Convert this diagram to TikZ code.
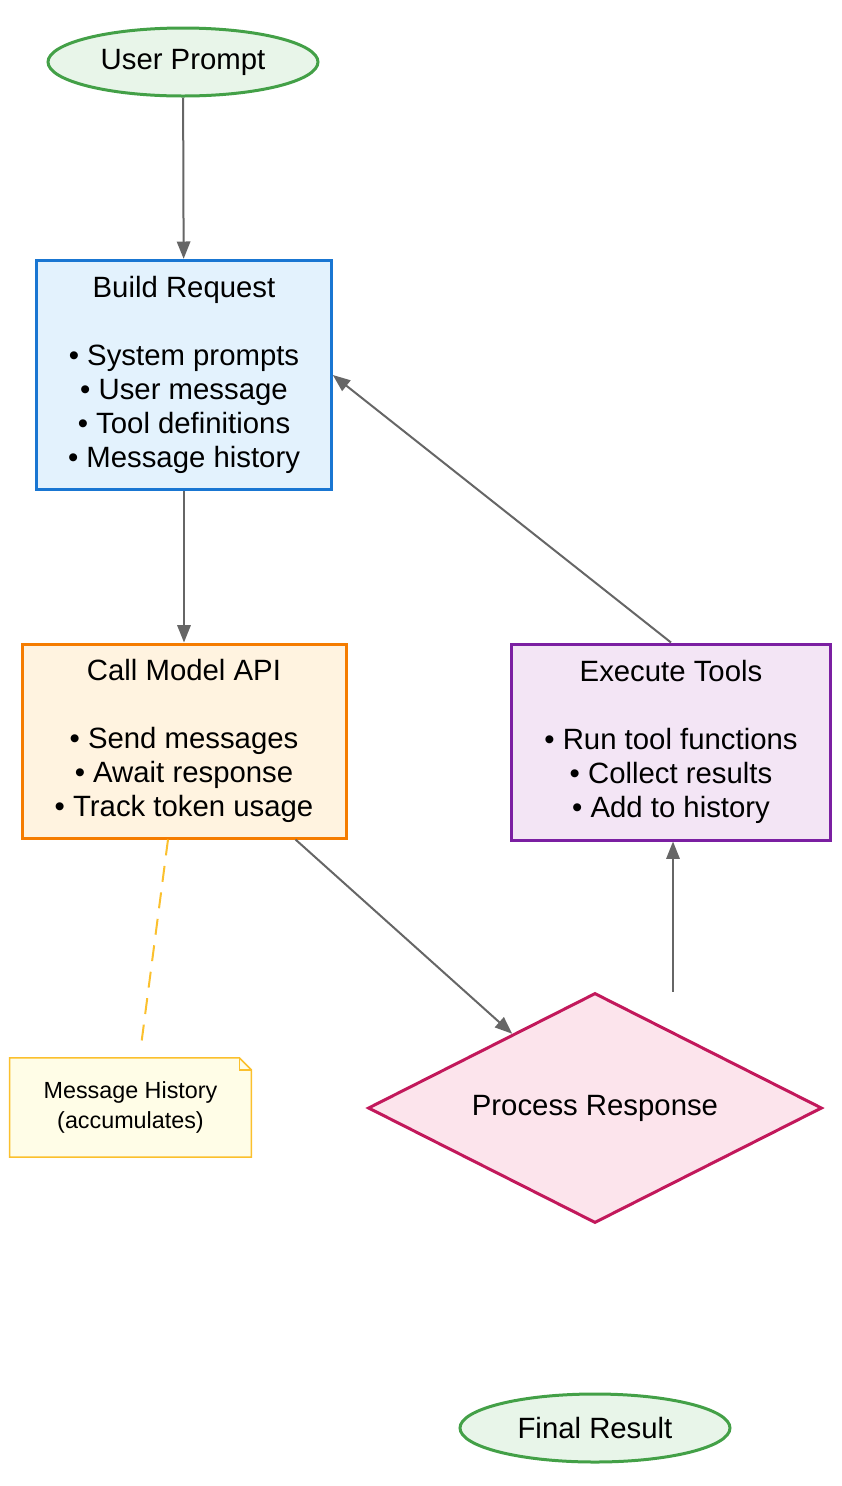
\documentclass[tikz,border=0pt]{standalone}
\usepackage{fontspec}
\setmainfont{Liberation Sans}
\usetikzlibrary{shapes.geometric,arrows.meta,calc}
\definecolor{edgec}{HTML}{666666}
\begin{document}
\begin{tikzpicture}[x=0.75pt,y=-0.75pt,
  base/.style={line width=2.25pt,align=center,inner sep=0pt,font=\fontsize{22}{25.5}\selectfont},
  term/.style={base,ellipse,draw={rgb,255:red,67;green,160;blue,71},fill={rgb,255:red,232;green,245;blue,233},minimum width=202.5pt,minimum height=51pt},
  box/.style={base,rectangle},
  edge/.style={draw=edgec,line width=1.5pt,-{Triangle[length=13pt,width=10pt]}}]
\useasboundingbox (0,0) rectangle (842,1486);
\node[term] (user) at (183,62) {User Prompt};
\node[box,draw={rgb,255:red,25;green,118;blue,210},fill={rgb,255:red,227;green,242;blue,253},minimum width=221pt,minimum height=172pt] (build) at (184,375)
 {Build Request\\~\\• System prompts\\• User message\\• Tool definitions\\• Message history};
\node[box,draw={rgb,255:red,245;green,124;blue,0},fill={rgb,255:red,255;green,243;blue,224},minimum width=243pt,minimum height=145.5pt] (call) at (184,741)
 {Call Model API\\~\\• Send messages\\• Await response\\• Track token usage};
\node[box,draw={rgb,255:red,123;green,31;blue,162},fill={rgb,255:red,243;green,229;blue,245},minimum width=239pt,minimum height=147pt] (exec) at (671,742)
 {Execute Tools\\~\\• Run tool functions\\• Collect results\\• Add to history};
\node[base,diamond,aspect=1.97,draw={rgb,255:red,194;green,24;blue,91},fill={rgb,255:red,252;green,228;blue,236},minimum width=340.5pt,minimum height=172.5pt] (proc) at (595,1108) {Process Response};
\node[term] (final) at (595,1428) {Final Result};
\node[align=center,inner sep=0pt,minimum width=181pt,minimum height=74pt,font=\fontsize{17.5}{23}\selectfont] (note) at (130.5,1107.5) {Message History\\(accumulates)};
\draw[line width=1.2pt,draw={rgb,255:red,251;green,192;blue,45},fill={rgb,255:red,255;green,253;blue,231}]
  (note.north west) -- ($(note.north east)+(-12,0)$) -- ($(note.north east)+(0,12)$) -- (note.south east) -- (note.south west) -- cycle;
\draw[line width=1.2pt,draw={rgb,255:red,251;green,192;blue,45}] ($(note.north east)+(-12,0)$) -- ($(note.north east)+(-12,12)$) -- ($(note.north east)+(0,12)$);
\node[align=center,inner sep=0pt,font=\fontsize{17.5}{23}\selectfont] at (note.center) {Message History\\(accumulates)};
\draw[edge] (user) -- (build);
\draw[edge] (build) -- (call);
\draw[edge] (call.south east) ++(-52,0) coordinate (c1) (c1) -- (proc);
\draw[edge] ($(proc.north)+(78,0)$) coordinate (p1) -- (p1 |- exec.south);
\draw[edge] (exec.north) -- (build.east);
\draw[line width=1.5pt,draw={rgb,255:red,251;green,192;blue,45},dash pattern=on 12pt off 8pt] ($(call.south)+(-16,0)$) -- ($(note.north)+(10,-8)$);
\end{tikzpicture}
\end{document}
